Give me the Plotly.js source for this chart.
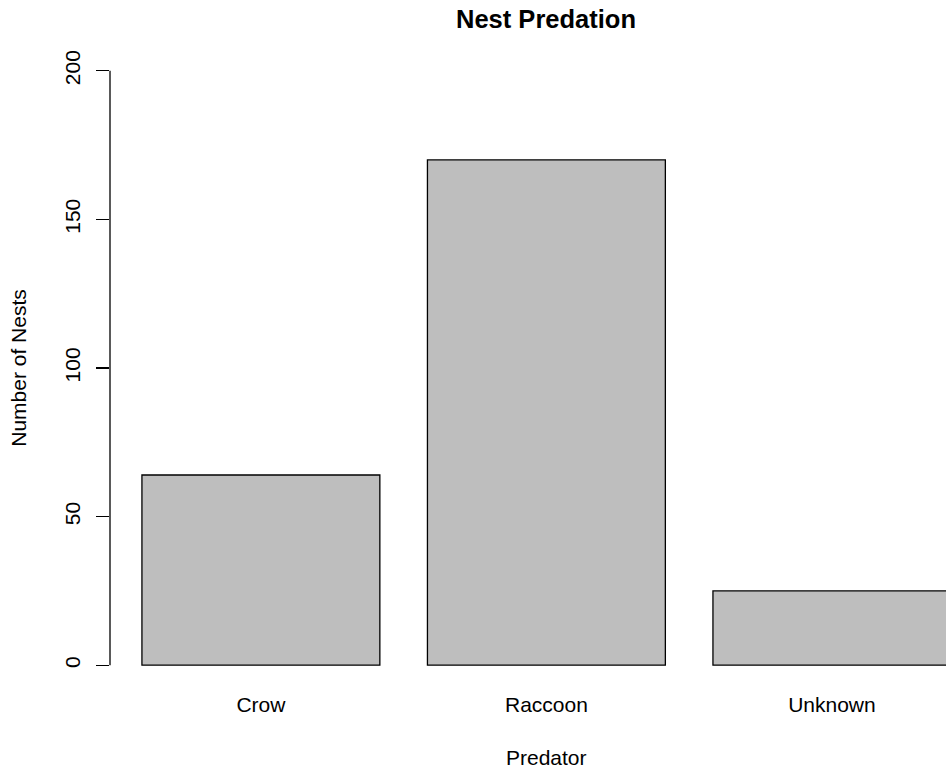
<!DOCTYPE html>
<html>
<head>
<meta charset="utf-8">
<script src="https://cdn.plot.ly/plotly-3.0.1.min.js"></script>
<style>html,body{margin:0;padding:0;background:#fff;}#chart{width:946px;height:776px;}</style>
</head>
<body>
<div id="chart"></div>
<script>
var predators = ["Crow", "Raccoon", "Unknown"];
var nests = [64, 170, 25];
var yTicks = [0, 50, 100, 150, 200];

var FONT = "Liberation Sans, Arial, sans-serif";

var trace = {
  type: "bar",
  x: predators,
  y: nests,
  marker: { color: "#bebebe", line: { color: "#000", width: 1.3 } },
  hoverinfo: "x+y"
};

var layout = {
  width: 946,
  height: 776,
  margin: { l: 110, r: 0, t: 47, b: 87, pad: 0 },
  paper_bgcolor: "#fff",
  plot_bgcolor: "#fff",
  showlegend: false,
  bargap: 0.1667,
  font: { family: FONT, size: 21, color: "#000" },
  title: {
    text: "Nest Predation",
    font: { family: FONT, size: 25.5, weight: "bold", color: "#000" },
    xref: "container", x: 546 / 946, xanchor: "center",
    yref: "container", y: 1 - 19 / 776, yanchor: "middle"
  },
  xaxis: {
    type: "category",
    range: [-0.5285, 2.3996],
    showline: false, showgrid: false, zeroline: false,
    ticks: "", ticklen: 0,
    ticklabelstandoff: 1,
    tickfont: { family: FONT, size: 21, color: "#000" }
  },
  yaxis: {
    range: [-8, 208],
    tickvals: yTicks,
    ticktext: yTicks.map(String),
    tickangle: -90,
    showline: false, showgrid: false, zeroline: false,
    ticks: "outside", ticklen: 12.6, tickwidth: 1.3, tickcolor: "#000",
    ticklabelstandoff: 8,
    tickfont: { family: FONT, size: 21, color: "#000" },
    title: { text: "Number of Nests", font: { family: FONT, size: 21, color: "#000" }, standoff: 28 }
  },
  annotations: [{
    text: "Predator",
    xref: "paper", x: (546 - 110) / 836, xanchor: "center",
    yref: "paper", y: -(757 - 689) / 642, yanchor: "middle",
    showarrow: false,
    font: { family: FONT, size: 21, color: "#000" }
  }],
  shapes: [{
    type: "line", xref: "paper", yref: "y",
    x0: 0, x1: 0, y0: yTicks[0], y1: yTicks[yTicks.length - 1],
    line: { color: "#000", width: 1.3 }
  }]
};

Plotly.newPlot("chart", [trace], layout, { displayModeBar: false, staticPlot: true });
</script>
</body>
</html>
